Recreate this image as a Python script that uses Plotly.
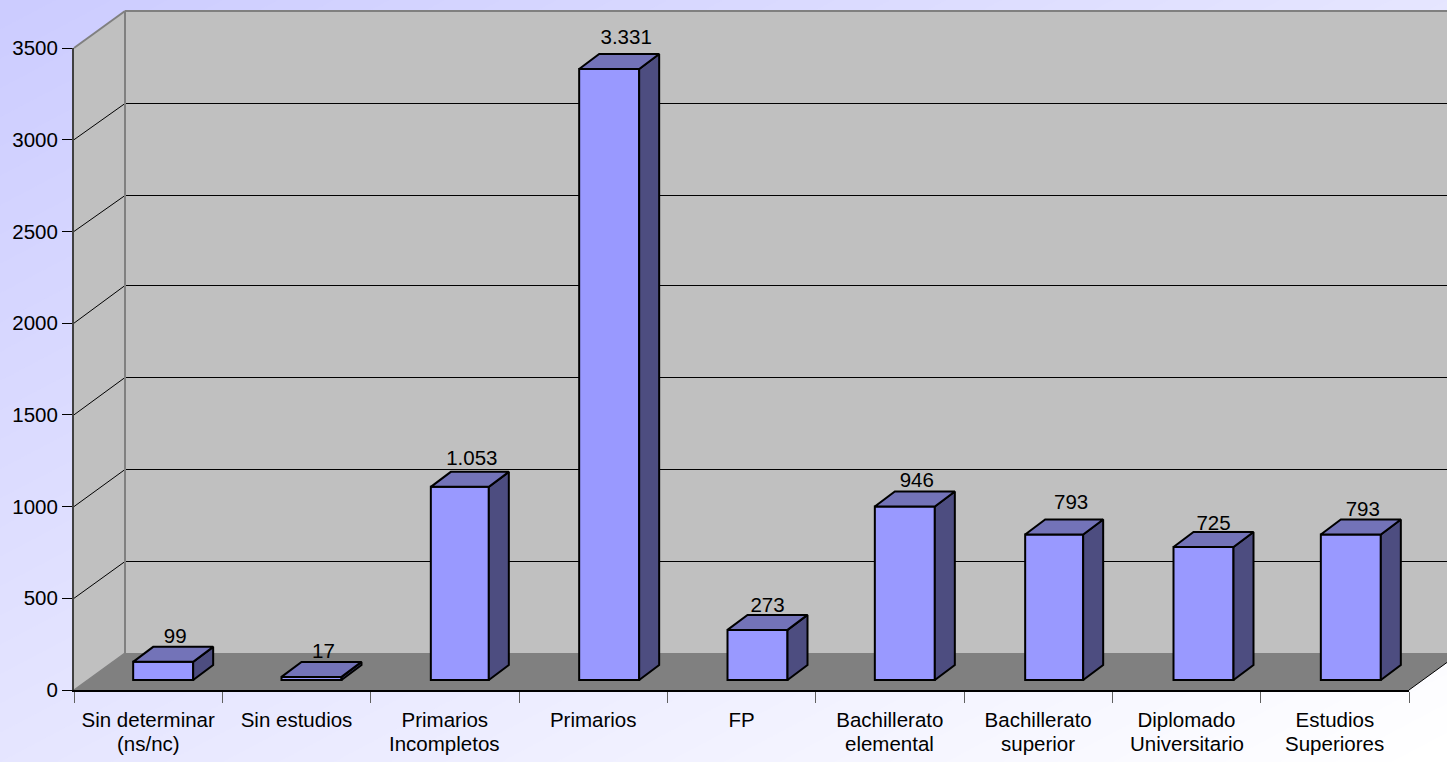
import plotly.graph_objects as go

label_line1 = ["Sin determinar", "Sin estudios", "Primarios", "Primarios", "FP",
               "Bachillerato", "Bachillerato", "Diplomado", "Estudios"]
label_line2 = ["(ns/nc)", "", "Incompletos", "", "", "elemental", "superior",
               "Universitario", "Superiores"]
values = [99, 17, 1053, 3331, 273, 946, 793, 725, 793]
value_text = ["99", "17", "1.053", "3.331", "273", "946", "793", "725", "793"]
y_ticks = [0, 500, 1000, 1500, 2000, 2500, 3000, 3500]

W, H = 1447, 762
L, R, T, B = 74, 1409, 48, 690
PW, PH = R - L, B - T
N = len(values)
YMAX = 3500
ux = PW / N              # px per category
uy = PH / YMAX           # px per value unit

# chart-box depth (px)
WALL_DX, WALL_DY = 51, 37
# bar geometry (px)
BAR_SHIFT_X, BAR_SHIFT_Y = 15, 10
BAR_DX, BAR_DY = 20, 15
# small pixel placement tweaks (not data)
bar_w_px = [60, 60, 58, 60, 60, 60, 58, 60, 60]
bar_nudge = [0, 0, 0, 1, 1, 0, 1, 2, 1]
label_nudge_x = [0, 0, 0, 6, -1, 0, 6, 0, 1]
label_nudge_y = [-1, -1, 2, 5, -2, -1, 5, -3, -2]
grid_nudge = [0, -1, -1, -1, 1, 0]

FONT = "Liberation Sans, Arial, sans-serif"
FS = 20.5


def px(x):
    return (x - L) / PW


def py(y):
    return (B - y) / PH


def poly(points, **kw):
    d = "M " + " L ".join(f"{px(a):.5f},{py(b):.5f}" for a, b in points) + " Z"
    return dict(type="path", xref="paper", yref="paper", path=d, layer="below", **kw)


def seg(x0, y0, x1, y1, color, width):
    return dict(type="line", xref="paper", yref="paper", layer="below",
                x0=px(x0), y0=py(y0), x1=px(x1), y1=py(y1),
                line=dict(color=color, width=width))


shapes = []
# diagonal page gradient: nested triangles
steps = 52
for k in range(steps, 0, -1):
    s = 2 * k / steps
    t = (k - 0.5) / steps
    c = round(204 + 51 * t)
    shapes.append(poly([(0, 0), (W * s, 0), (0, H * s)],
                       fillcolor=f"rgb({c},{c},255)", line=dict(width=0)))

# side wall, back wall, floor
WX, WT, WB = L + WALL_DX, T - WALL_DY, B - WALL_DY
shapes.append(poly([(L, T), (WX, WT), (WX, WB), (L, B)], fillcolor="#c0c0c0", line=dict(width=0)))
shapes.append(poly([(WX, WT), (R + WALL_DX, WT), (R + WALL_DX, WB), (WX, WB)],
                   fillcolor="#c0c0c0", line=dict(width=0)))
shapes.append(poly([(L, B), (WX, WB), (R + WALL_DX, WB), (R, B)], fillcolor="#808080", line=dict(width=0)))
# grid
for v, n in zip(y_ticks[1:-1], grid_nudge):
    d = v * uy
    gy = round(WB - d) + n + 0.5
    shapes.append(seg(L, B - d, WX, gy, "#000000", 1))
    shapes.append(seg(WX, gy, R + WALL_DX, gy, "#000000", 1))
# wall borders
shapes.append(seg(WX, WT, WX, WB, "#808080", 2))
shapes.append(seg(L, T, WX, WT, "#808080", 2))
shapes.append(seg(WX, WT, R + WALL_DX, WT, "#808080", 2))
shapes.append(seg(L, B, WX, WB, "#808080", 1.5))
shapes.append(seg(R, B, R + WALL_DX, WB, "#000000", 1))

# value-space helpers
xs = [i + (BAR_SHIFT_X + n) / ux for i, n in enumerate(bar_nudge)]
base = BAR_SHIFT_Y / uy
bws = [w / ux for w in bar_w_px]
ddx, ddy = BAR_DX / ux, BAR_DY / uy

top_x, top_y, side_x, side_y = [], [], [], []
for x, v, bw in zip(xs, values, bws):
    a, b = x - bw / 2, x + bw / 2
    y0, y1 = base, base + v
    top_x += [a, b, b + ddx, a + ddx, a, None]
    top_y += [y1, y1, y1 + ddy, y1 + ddy, y1, None]
    side_x += [b, b + ddx, b + ddx, b, b, None]
    side_y += [y0, y0 + ddy, y1 + ddy, y1, y0, None]

edge = dict(color="#000000", width=2)
fig = go.Figure()
fig.add_trace(go.Scatter(x=side_x, y=side_y, mode="lines", fill="toself",
                         fillcolor="#4d4d80", line=edge, hoverinfo="skip"))
fig.add_trace(go.Scatter(x=top_x, y=top_y, mode="lines", fill="toself",
                         fillcolor="#7373b8", line=edge, hoverinfo="skip"))
fig.add_trace(go.Bar(x=xs, y=values, base=base, width=bws,
                     marker=dict(color="#9999ff", line=edge), hoverinfo="skip"))
fig.add_trace(go.Scatter(x=[i + (BAR_SHIFT_X + 12 + n) / ux for i, n in enumerate(label_nudge_x)],
                         y=[base + v + ddy + n / uy for v, n in zip(values, label_nudge_y)],
                         mode="text", text=value_text, textposition="top center",
                         textfont=dict(family=FONT, size=FS, color="#000000"),
                         cliponaxis=False, hoverinfo="skip"))

annotations = [
    dict(x=i, y=0, xref="x", yref="paper", text=t, showarrow=False, yanchor="middle",
         yshift=-53, font=dict(family=FONT, size=FS, color="#000000"))
    for i, t in enumerate(label_line2) if t
]

fig.update_layout(
    width=W, height=H, showlegend=False, barmode="overlay",
    margin=dict(l=L, r=W - R, t=T, b=H - B, pad=0),
    paper_bgcolor="#ffffff", plot_bgcolor="rgba(0,0,0,0)",
    shapes=shapes, annotations=annotations,
    font=dict(family=FONT, size=FS, color="#000000"),
    xaxis=dict(range=[-0.5, N - 0.5], tickmode="array", tickvals=list(range(N)),
               ticktext=label_line1, ticks="outside", ticklen=10,
               tickcolor="rgba(0,0,0,0)", showgrid=False, zeroline=False,
               showline=True, linecolor="#000000", linewidth=2, tickangle=0,
               minor=dict(tickmode="array", tickvals=[i - 0.5 for i in range(N + 1)],
                          ticks="outside", ticklen=11, tickcolor="#606060",
                          tickwidth=1, showgrid=False)),
    yaxis=dict(range=[0, YMAX], tickmode="array", tickvals=y_ticks, ticks="outside",
               ticklen=10, tickcolor="#000000", tickwidth=1, showgrid=False,
               zeroline=False, showline=True, linecolor="#404040", linewidth=2),
)

fig.write_html("out.html", config={"displayModeBar": False},
               post_script="document.body.style.margin='0';document.documentElement.style.overflow='hidden';")
